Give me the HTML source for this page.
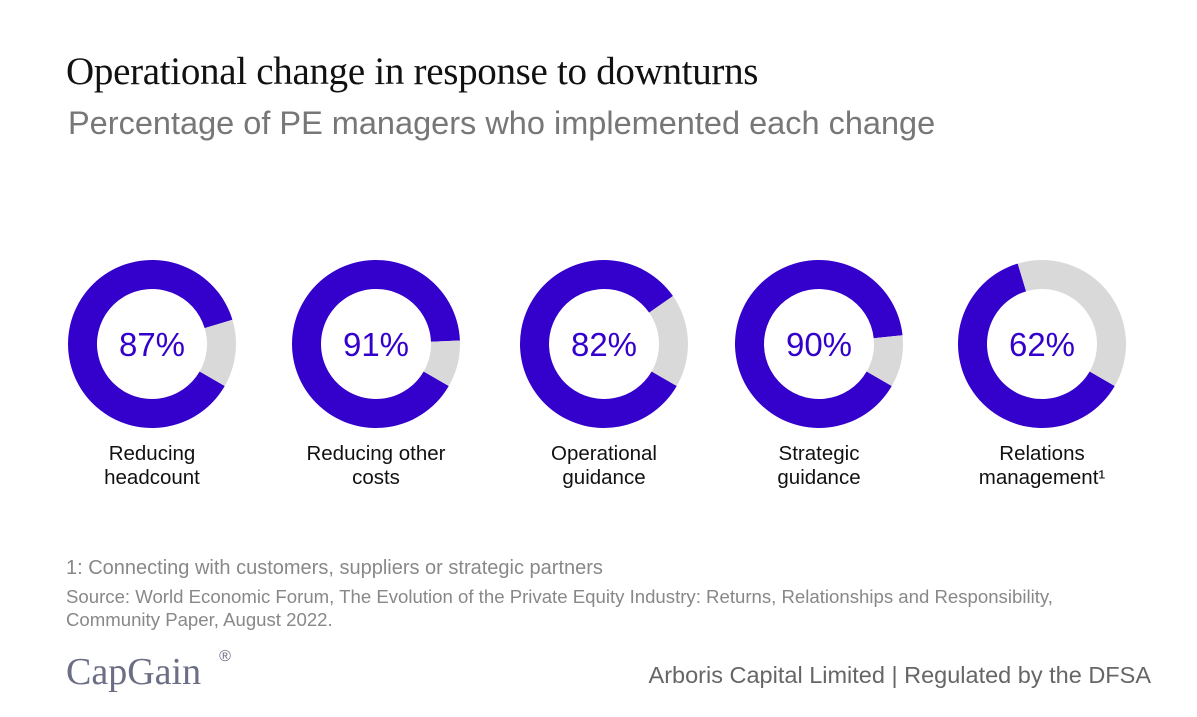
<!DOCTYPE html>
<html><head><meta charset="utf-8"><style>
body{margin:0;background:#fff;width:1197px;height:717px;overflow:hidden;position:relative;font-family:"Liberation Sans",sans-serif}
.t{position:absolute;white-space:nowrap}
</style></head><body>
<div class="t" style="left:66px;top:49px;font-family:'Liberation Serif',serif;font-size:39px;color:#111;letter-spacing:-0.3px">Operational change in response to downturns</div>
<div class="t" style="left:68px;top:105px;font-size:32.5px;color:#777">Percentage of PE managers who implemented each change</div>
<svg id="chart" width="1197" height="717" style="position:absolute;left:0;top:0"></svg>
<div class="t" style="left:66px;top:557px;font-size:20px;color:#888">1: Connecting with customers, suppliers or strategic partners</div>
<div class="t" style="left:66px;top:585px;font-size:18.6px;color:#888;line-height:23px">Source: World Economic Forum, The Evolution of the Private Equity Industry: Returns, Relationships and Responsibility,<br>Community Paper, August 2022.</div>
<div class="t" style="left:66px;top:650px;font-family:'Liberation Serif',serif;font-size:38px;color:#6b6e85">CapGain<span style="font-family:'Liberation Sans';font-size:16px;vertical-align:top;margin-left:18px;position:relative;top:-2px">®</span></div>
<div class="t" style="right:46px;top:662px;font-size:23.5px;color:#666">Arboris Capital Limited | Regulated by the DFSA</div>
<script>
const categories=[["Reducing","headcount"],["Reducing other","costs"],["Operational","guidance"],["Strategic","guidance"],["Relations","management¹"]];
const values=[87,91,82,90,62];
const labels=["87%","91%","82%","90%","62%"];
const svg=document.getElementById('chart');
const NS='http://www.w3.org/2000/svg';
const cxs=[152,376,604,819,1042],cy=344,R=84,r=55;
function pt(a,rad,cx){const t=(a-90)*Math.PI/180;return [cx+rad*Math.cos(t),cy+rad*Math.sin(t)];}
function arc(cx,a0,a1){const big=(a1-a0)>180?1:0;const p1=pt(a0,R,cx),p2=pt(a1,R,cx),p3=pt(a1,r,cx),p4=pt(a0,r,cx);
return `M${p1[0]},${p1[1]}A${R},${R} 0 ${big} 1 ${p2[0]},${p2[1]}L${p3[0]},${p3[1]}A${r},${r} 0 ${big} 0 ${p4[0]},${p4[1]}Z`;}
values.forEach((v,i)=>{
  const cx=cxs[i];const end=120;const ang=v/100*360;const start=end-360;
  const p=document.createElementNS(NS,'path');p.setAttribute('d',arc(cx,start,start+ang));p.setAttribute('fill','#3300cc');
  
  svg.appendChild(p);
  const g=document.createElementNS(NS,'path');g.setAttribute('d',arc(cx,start+ang,end));g.setAttribute('fill','#d9d9d9');
  
  svg.appendChild(g);
  const t=document.createElementNS(NS,'text');t.setAttribute('x',cx);t.setAttribute('y',cy+12);t.setAttribute('text-anchor','middle');
  t.setAttribute('font-size','33');t.setAttribute('fill','#3300cc');t.setAttribute('font-family','Liberation Sans, sans-serif');t.textContent=labels[i];
  
  svg.appendChild(t);
  categories[i].forEach((line,j)=>{const l=document.createElementNS(NS,'text');l.setAttribute('x',cx);l.setAttribute('y',460+j*24);
    l.setAttribute('text-anchor','middle');l.setAttribute('font-size','20.5');l.setAttribute('fill','#111');l.setAttribute('font-family','Liberation Sans, sans-serif');l.textContent=line;
    
    svg.appendChild(l);});
});
</script>
</body></html>
